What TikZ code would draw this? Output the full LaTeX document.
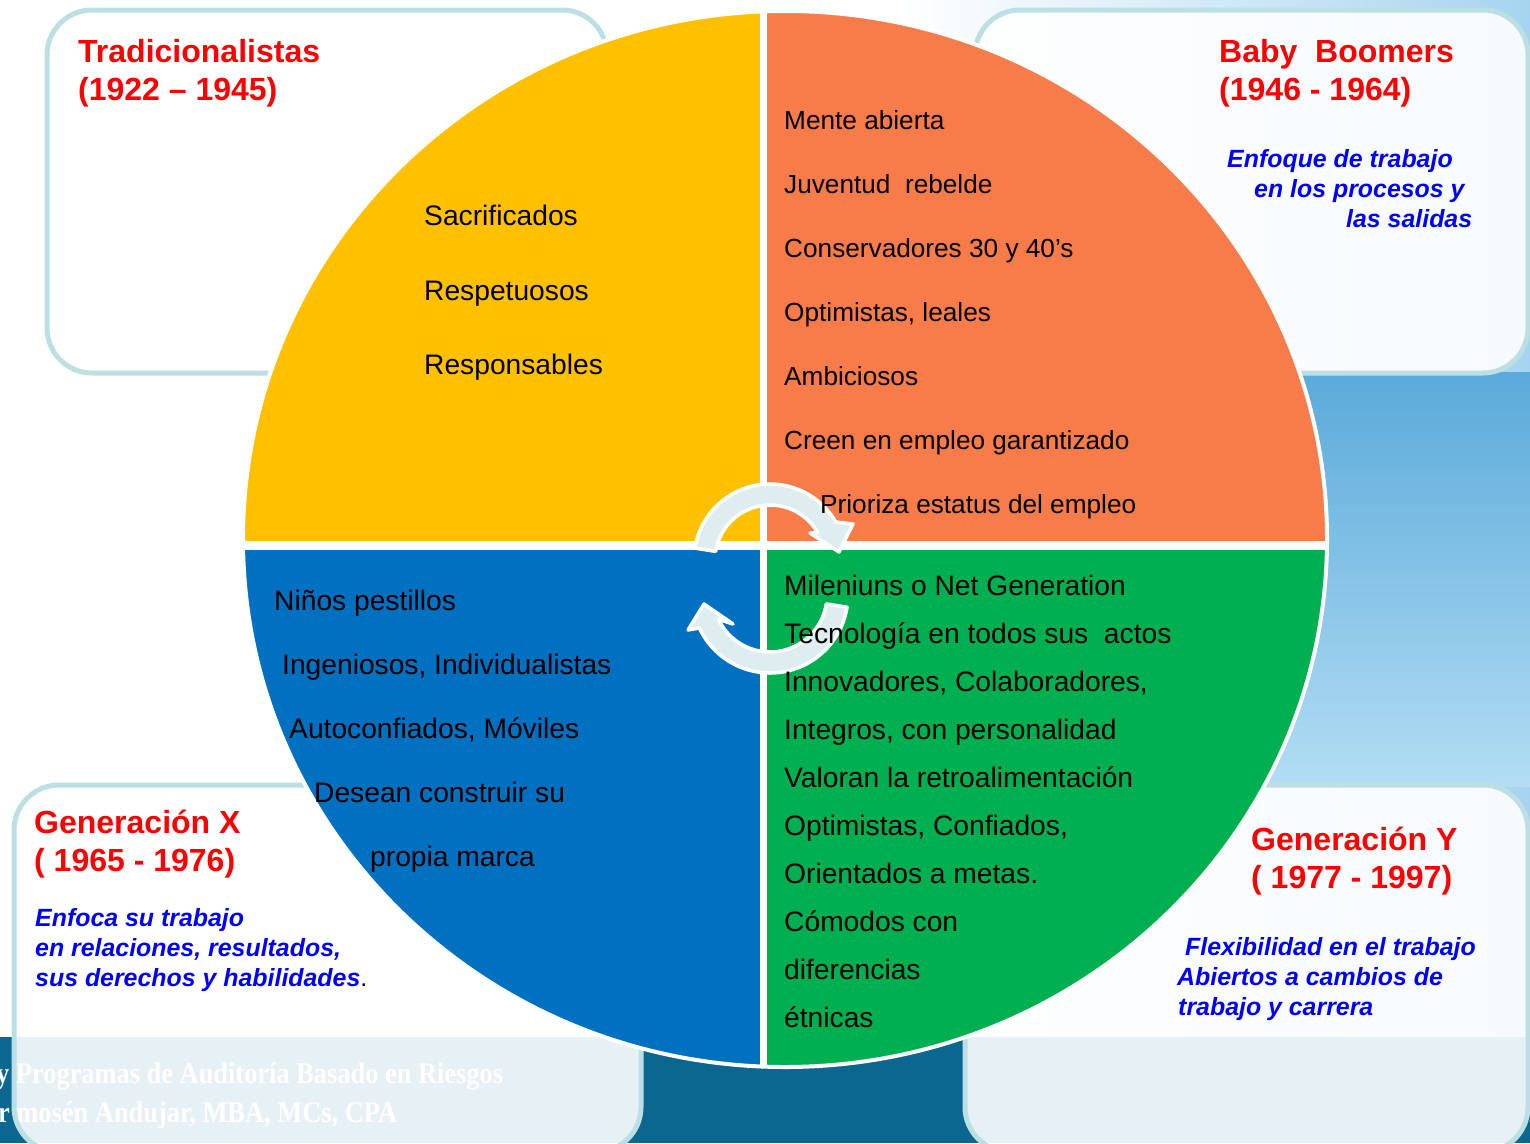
\documentclass[tikz,border=0pt]{standalone}
\usepackage{fontspec}
\setmainfont{Liberation Sans}
\newfontfamily\footfont{Liberation Serif}
\usetikzlibrary{calc}
\definecolor{cyel}{HTML}{FFC000}
\definecolor{corg}{HTML}{F87B4A}
\definecolor{cgrn}{HTML}{00B050}
\definecolor{cblu}{HTML}{0070C0}
\definecolor{cred}{HTML}{FF0000}
\definecolor{cital}{HTML}{0000FF}
\definecolor{cbord}{HTML}{BCDFE4}
\definecolor{cband}{HTML}{0B6690}
\definecolor{carrow}{HTML}{DDEDF0}
\definecolor{skyA}{HTML}{5AAADA}
\definecolor{skyB}{HTML}{B3DDF4}
\definecolor{skyC}{HTML}{A6D4F0}
\begin{document}
\begin{tikzpicture}[x=1pt,y=-1pt,
  panel/.style={draw=cbord, line width=5, rounded corners=45, fill=white, fill opacity=0.9},
  title/.style={anchor=base west, inner sep=0, text=cred, font=\fontsize{32}{36}\selectfont\bfseries},
  note/.style={anchor=base west, inner sep=0, text=cital, font=\fontsize{24.9}{29}\selectfont\bfseries\itshape},
  item/.style={anchor=base west, inner sep=0, text=black, font=\fontsize{28.2}{33}\selectfont},
  itemsm/.style={anchor=base west, inner sep=0, text=black, font=\fontsize{26.2}{31}\selectfont},
  foot/.style={anchor=base west, inner sep=0, text=white, font=\footfont\bfseries\fontsize{30}{34}\selectfont, xscale=0.88},
  cyc/.style={fill=carrow, draw=white, line width=3.5, line join=round}
]
\useasboundingbox (0,0) rectangle (1530,1143);
\clip (0,0) rectangle (1530,1143);

% background
\fill[white] (0,0) rectangle (1530,1143);
\fill[left color=white, right color=skyC] (900,0) rectangle (1530,1037);
\fill[top color=skyA, bottom color=skyB] (1200,372) rectangle (1530,786);
\fill[cband] (0,1037) rectangle (1530,1143);

% footer text
\node[foot] (f1) at (-4,1083) {y Programas de Auditoría Basado en Riesgos};
\node[foot] (f2) at (-2,1122) {r mosén Andujar, MBA, MCs, CPA};

% panels
\draw[panel] (47,10) rectangle (607,373);
\draw[panel] (975,10) rectangle (1528,373);
\draw[panel] (14,785) rectangle (641,1152);
\draw[panel] (965,785) rectangle (1528,1152);

% pie
\begin{scope}
  \clip (785,539) ellipse [x radius=542, y radius=528];
  \fill[cyel] (0,0) rectangle (763.5,545.5);
  \fill[corg] (763.5,0) rectangle (1530,545.5);
  \fill[cblu] (0,545.5) rectangle (763.5,1143);
  \fill[cgrn] (763.5,545.5) rectangle (1530,1143);
  \draw[white, line width=7] (763.5,0) -- (763.5,1143);
  \draw[white, line width=9] (0,545.5) -- (1530,545.5);
\end{scope}
\draw[white, line width=4] (785,539) ellipse [x radius=542, y radius=528];

% cycle arrows
\coordinate (cu) at (770,560);
\coordinate (cl) at (770,595);
\path[cyc] ($(cu)+(189:76)$) arc[start angle=189, end angle=330, radius=76]
  -- (853,524) -- (839,552) -- (810,533) -- ($(cu)+(330:55)$)
  arc[start angle=330, end angle=189, radius=55] -- cycle;
\path[cyc] ($(cl)+(9:78)$) arc[start angle=9, end angle=155, radius=78]
  -- (688,630) -- (704,604) -- (733,624) -- ($(cl)+(155:57)$)
  arc[start angle=155, end angle=9, radius=57] -- cycle;

% titles
\node[title] (tA1) at (78,62) {Tradicionalistas};
\node[title] (tA2) at (78,100) {(1922 – 1945)};
\node[title] (tB1) at (1219,62) {Baby\ \ Boomers};
\node[title] (tB2) at (1219,100) {(1946 - 1964)};
\node[title] (tX1) at (34,833) {Generación X};
\node[title] (tX2) at (34,871) {( 1965 - 1976)};
\node[title] (tY1) at (1251,850) {Generación Y};
\node[title] (tY2) at (1251,888) {( 1977 - 1997)};

% notes
\node[note] (nB1) at (1227,167) {Enfoque de trabajo};
\node[note] (nB2) at (1254,197) {en los procesos y};
\node[note] (nB3) at (1346,227) {las salidas};
\node[note] (nX1) at (35,926) {Enfoca su trabajo};
\node[note] (nX2) at (35,956) {en relaciones, resultados,};
\node[note] (nX3) at (35,986) {sus derechos y habilidades{\mdseries\upshape\color{black}.}};
\node[note] (nY1) at (1185,955) {Flexibilidad en el trabajo};
\node[note] (nY2) at (1177,985) {Abiertos a cambios de};
\node[note] (nY3) at (1178,1015) {trabajo y carrera};

% yellow quadrant
\node[item] (y1) at (424,225) {Sacrificados};
\node[item] (y2) at (424,300) {Respetuosos};
\node[item] (y3) at (424,374) {Responsables};

% orange quadrant
\node[itemsm] (o1) at (784,129) {Mente abierta};
\node[itemsm] (o2) at (784,193) {Juventud\ \ rebelde};
\node[itemsm] (o3) at (784,257) {Conservadores 30 y 40’s};
\node[itemsm] (o4) at (784,321) {Optimistas, leales};
\node[itemsm] (o5) at (784,385) {Ambiciosos};
\node[itemsm] (o6) at (784,449) {Creen en empleo garantizado};
\node[itemsm] (o7) at (820,513) {Prioriza estatus del empleo};

% blue quadrant
\node[item] (b1) at (274,610) {Niños pestillos};
\node[item] (b2) at (282,674) {Ingeniosos, Individualistas};
\node[item] (b3) at (289,738) {Autoconfiados, Móviles};
\node[item] (b4) at (314,802) {Desean construir su};
\node[item] (b5) at (370,866) {propia marca};

% green quadrant
\node[item] (g1) at (784,595) {Mileniuns o Net Generation};
\node[item] (g2) at (784,643) {Tecnología en todos sus\ \ actos};
\node[item] (g3) at (784,691) {Innovadores, Colaboradores,};
\node[item] (g4) at (784,739) {Integros, con personalidad};
\node[item] (g5) at (784,787) {Valoran la retroalimentación};
\node[item] (g6) at (784,835) {Optimistas, Confiados,};
\node[item] (g7) at (784,883) {Orientados a metas.};
\node[item] (g8) at (784,931) {Cómodos con};
\node[item] (g9) at (784,979) {diferencias};
\node[item] (g10) at (784,1027) {étnicas};
\end{tikzpicture}
\end{document}
